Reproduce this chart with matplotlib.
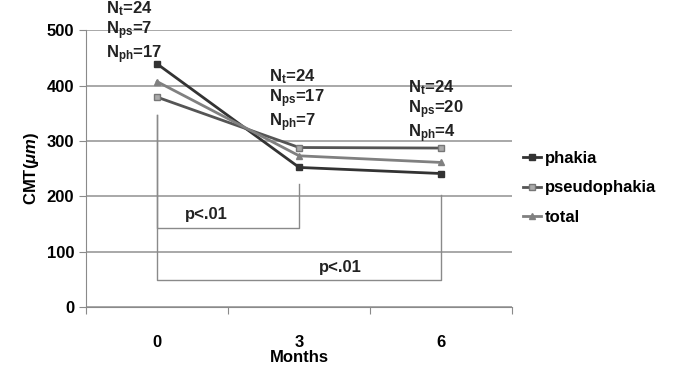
import matplotlib
matplotlib.use("Agg")
import matplotlib.pyplot as plt

plt.rcParams['font.family'] = 'Liberation Sans'
plt.rcParams['font.weight'] = 'bold'
plt.rcParams['axes.labelweight'] = 'bold'
plt.rcParams['mathtext.fontset'] = 'custom'
plt.rcParams['mathtext.rm'] = 'Liberation Sans:bold'
plt.rcParams['mathtext.bf'] = 'Liberation Sans:bold'
plt.rcParams['mathtext.it'] = 'Liberation Sans:italic:bold'

months = ['0', '3', '6']
phakia = [439, 252, 241]
pseudophakia = [379, 288, 287]
total = [407, 273, 261]
n_t = [24, 24, 24]
n_ps = [7, 17, 20]
n_ph = [17, 7, 4]

fs = 12
fig = plt.figure(figsize=(6.73, 3.68), dpi=100)
ax = fig.add_axes([0.128, 0.166, 0.633, 0.752])
x = range(len(months))

ax.plot(x, phakia, color='#333333', lw=2, marker='s', ms=4.5, label='phakia')
ax.plot(x, pseudophakia, color='#555555', lw=2, marker='s', ms=4.5,
        mfc='#aaaaaa', mec='#777777', label='pseudophakia')
ax.plot(x, total, color='#808080', lw=2, marker='^', ms=5, label='total')

# significance brackets
br = dict(color='#8a8a8a', lw=1, clip_on=False)
ax.plot([0, 0, 1, 1], [347, 142, 142, 222], **br)
ax.plot([0, 0, 2, 2], [347, 49, 49, 202], **br)
ax.text(0.35, 167, 'p<.01', ha='center', va='center', fontsize=fs, color='#222222')
ax.text(1.29, 72, 'p<.01', ha='center', va='center', fontsize=fs, color='#222222')

# sample sizes
pos = [(-0.36, 496), (0.79, 373), (1.77, 353)]
for i, (px, py) in enumerate(pos):
    s = (r'N$_{\mathrm{t}}$=%d' % n_t[i] + '\n' + r'N$_{\mathrm{ps}}$=%d' % n_ps[i]
         + '\n' + r'N$_{\mathrm{ph}}$=%d' % n_ph[i])
    ax.text(px, py, s, ha='left', va='center', fontsize=fs, color='#222222',
            linespacing=1.1, clip_on=False)

ax.set_xlim(-0.5, 2.5)
ax.set_ylim(0, 500)
ax.set_yticks(range(0, 501, 100))
ax.set_xticks([-0.5, 0.5, 1.5, 2.5])
ax.set_xticklabels([])
ax.set_xticks(list(x), minor=True)
ax.set_xticklabels(months, minor=True)
ax.tick_params(axis='x', which='minor', length=0, pad=20, labelsize=fs)
ax.tick_params(axis='x', which='major', length=5, color='#8a8a8a', direction='out')
ax.tick_params(axis='y', length=5, color='#8a8a8a', labelsize=fs)
ax.grid(axis='y', color='#9a9a9a', lw=1.2)
ax.set_axisbelow(True)
for s in ['top', 'right']:
    ax.spines[s].set_visible(False)
for s in ['left', 'bottom']:
    ax.spines[s].set_color('#8a8a8a')

ax.set_xlabel('Months', fontsize=fs, labelpad=0)
ax.set_ylabel(r'CMT($\mathit{\mu m}$)', fontsize=fs, labelpad=4)

ax.legend(loc='center left', bbox_to_anchor=(0.99, 0.43), frameon=False,
          fontsize=fs, handlelength=1.1, handletextpad=0.2, labelspacing=0.85)

fig.savefig('out.png', dpi=100)
